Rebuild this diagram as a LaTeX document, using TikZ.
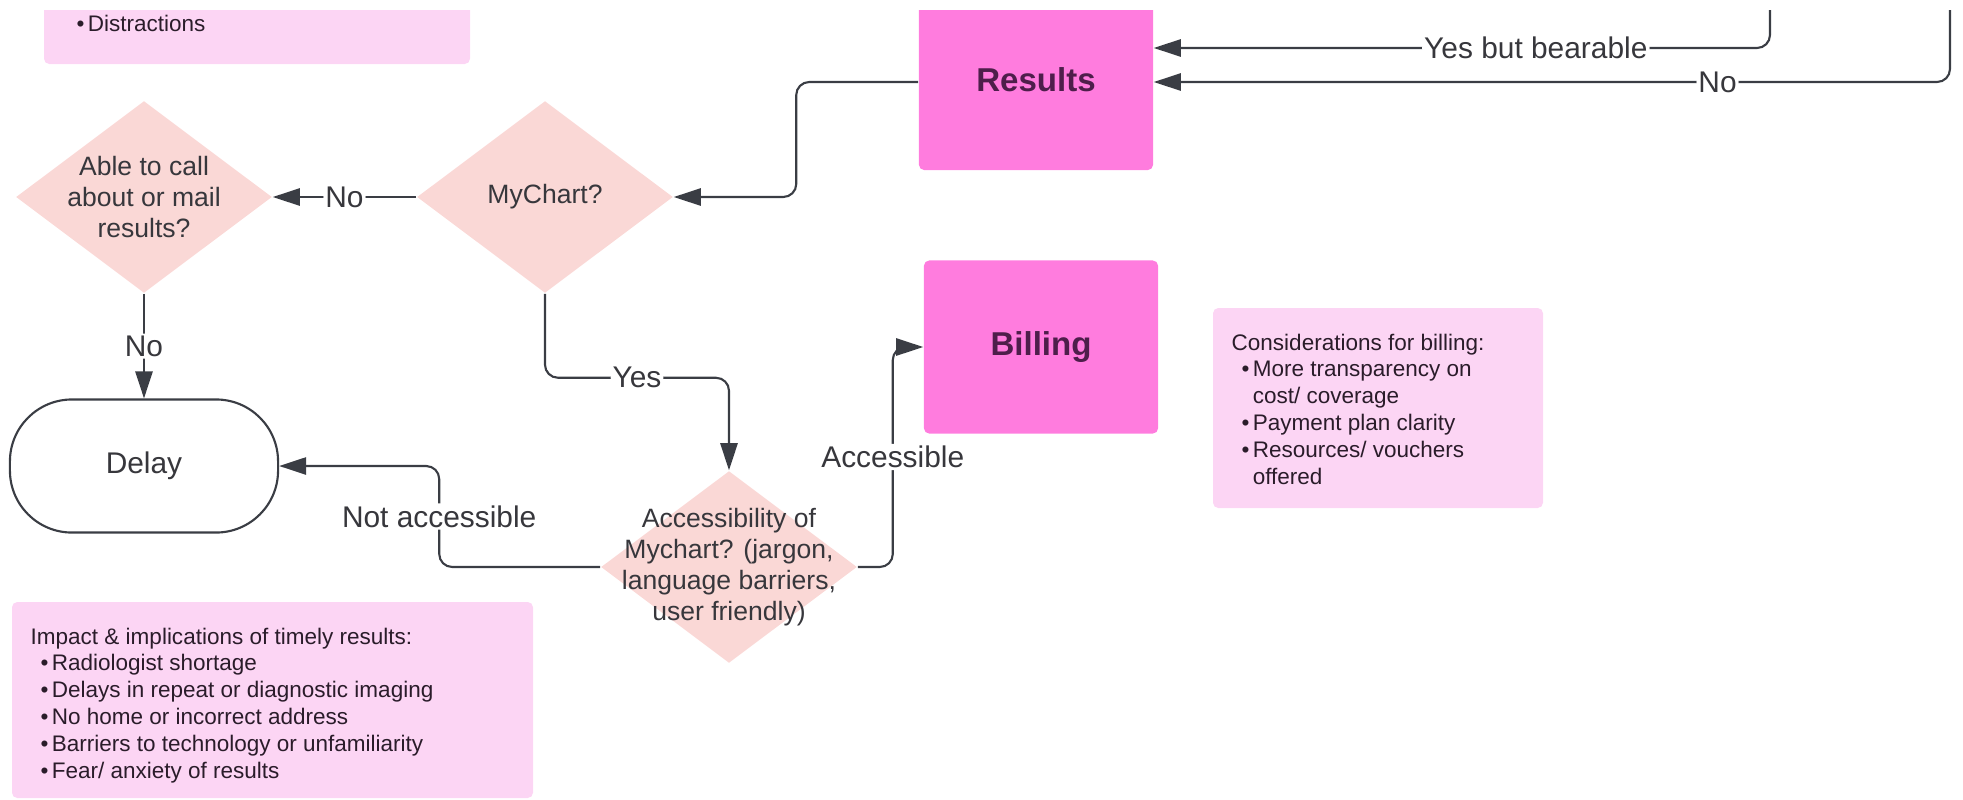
\documentclass[tikz,border=0pt]{standalone}
\usepackage{fontspec}
\setmainfont{Liberation Sans}
\usetikzlibrary{shapes.geometric, arrows.meta}

\definecolor{boxpink}{RGB}{255,124,222}
\definecolor{notepink}{RGB}{252,213,244}
\definecolor{decpink}{RGB}{250,216,214}
\definecolor{linegray}{RGB}{58,61,68}
\definecolor{txtgray}{RGB}{55,55,60}
\definecolor{boldtxt}{RGB}{78,30,75}
\definecolor{notetxt}{RGB}{42,28,42}

\newcommand{\nitem}{\hspace*{2.8pt}\makebox[3.2pt][l]{\textbullet}}

\begin{document}
\begin{tikzpicture} [x = 0.01cm, y = -0.01cm,
  conn/.style = {draw = linegray, line width = 0.6pt, rounded corners = 3.7pt, -{Triangle[length = 7.7pt, width = 4.9pt]}},
  lbl/.style = {fill = white, inner sep = 0.6pt, text = txtgray, font = \fontsize{8.5}{10}\selectfont},
  decision/.style = {diamond, fill = decpink, minimum width = 2.56cm, minimum height = 1.92cm, inner sep = 0},
  dectext/.style = {align = center, inner sep = 0, text = txtgray, font = \fontsize{7.55}{8.82}\selectfont},
  stage/.style = {fill = boxpink, rounded corners = 1.5pt, minimum width = 2.34cm, minimum height = 1.73cm, text = boldtxt, font = \fontsize{9.4}{11}\selectfont\bfseries},
  terminal/.style = {draw = linegray, line width = 0.6pt, fill = white, rounded corners = 0.62cm, minimum width = 2.68cm, minimum height = 1.33cm, text = txtgray, font = \fontsize{8.5}{10}\selectfont},
  notetext/.style = {anchor = north west, align = left, inner sep = 0, text = notetxt, font = \fontsize{6.4}{7.65}\selectfont}]
\useasboundingbox (0, 0) rectangle (1963, 799);
\clip (0, 10) rectangle (1963, 799);

\fill[notepink, rounded corners = 1.5pt] (44, -20) rectangle (470, 64);
\fill[notepink, rounded corners = 1.5pt] (12, 602) rectangle (533, 798);
\fill[notepink, rounded corners = 1.5pt] (1213, 308) rectangle (1543, 508);

\node[notetext] (distr) at (66, 14) {\nitem Distractions};
\node[notetext] (impact) at (30, 627) {Impact \& implications of timely results:\\
\nitem Radiologist shortage\\
\nitem Delays in repeat or diagnostic imaging\\
\nitem No home or incorrect address\\
\nitem Barriers to technology or unfamiliarity\\
\nitem Fear/ anxiety of results};
\node[notetext] (billnote) at (1231, 333) {Considerations for billing:\\
\nitem More transparency on\\
\hspace*{6pt}cost/ coverage\\
\nitem Payment plan clarity\\
\nitem Resources/ vouchers\\
\hspace*{6pt}offered};

\node[stage, minimum height = 1.76cm] (results) at (1036, 82) {\raisebox{1.5pt}{Results}};
\node[stage] (billing) at (1041, 347) {Billing};

\node[decision, label = {[dectext]center:{MyChart?}}] (mychart) at (545, 197) {};
\node[decision, label = {[dectext]center:{Able to call\\about or mail\\results?}}] (able) at (144, 197) {};
\node[decision, label = {[dectext]center:{Accessibility of\\Mychart? (jargon,\\language barriers,\\user friendly)}}] (access) at (729, 567) {};
\node[terminal] (delay) at (144, 466) {Delay};

\coordinate (feedA) at (1770, 0);
\coordinate (feedB) at (1950, 0);

\draw[conn] (feedA) |- node[lbl, pos = 0.69] {Yes but bearable} ([yshift = 0.34cm]results.east);
\draw[conn] (feedB) |- node[lbl, pos = 0.646] {No} (results.east);
\draw[conn] (results.west) -- ++(-122, 0) |- (mychart.east);
\draw[conn] (mychart.west) -- node[lbl] {No} (able.east);
\draw[conn] (able.south) -- node[lbl] {No} (delay.north);
\draw[conn] (mychart.south) -- ++(0, 84) -| node[lbl, pos = 0.25] {Yes} (access.north);
\draw[conn] (access.west) -- ++(-161, 0) |- node[lbl, pos = 0.25] {Not accessible} (delay.east);
\draw[conn] (access.east) -- ++(35, 0) |- node[lbl, pos = 0.25] {Accessible} (billing.west);
\end{tikzpicture}
\end{document}
